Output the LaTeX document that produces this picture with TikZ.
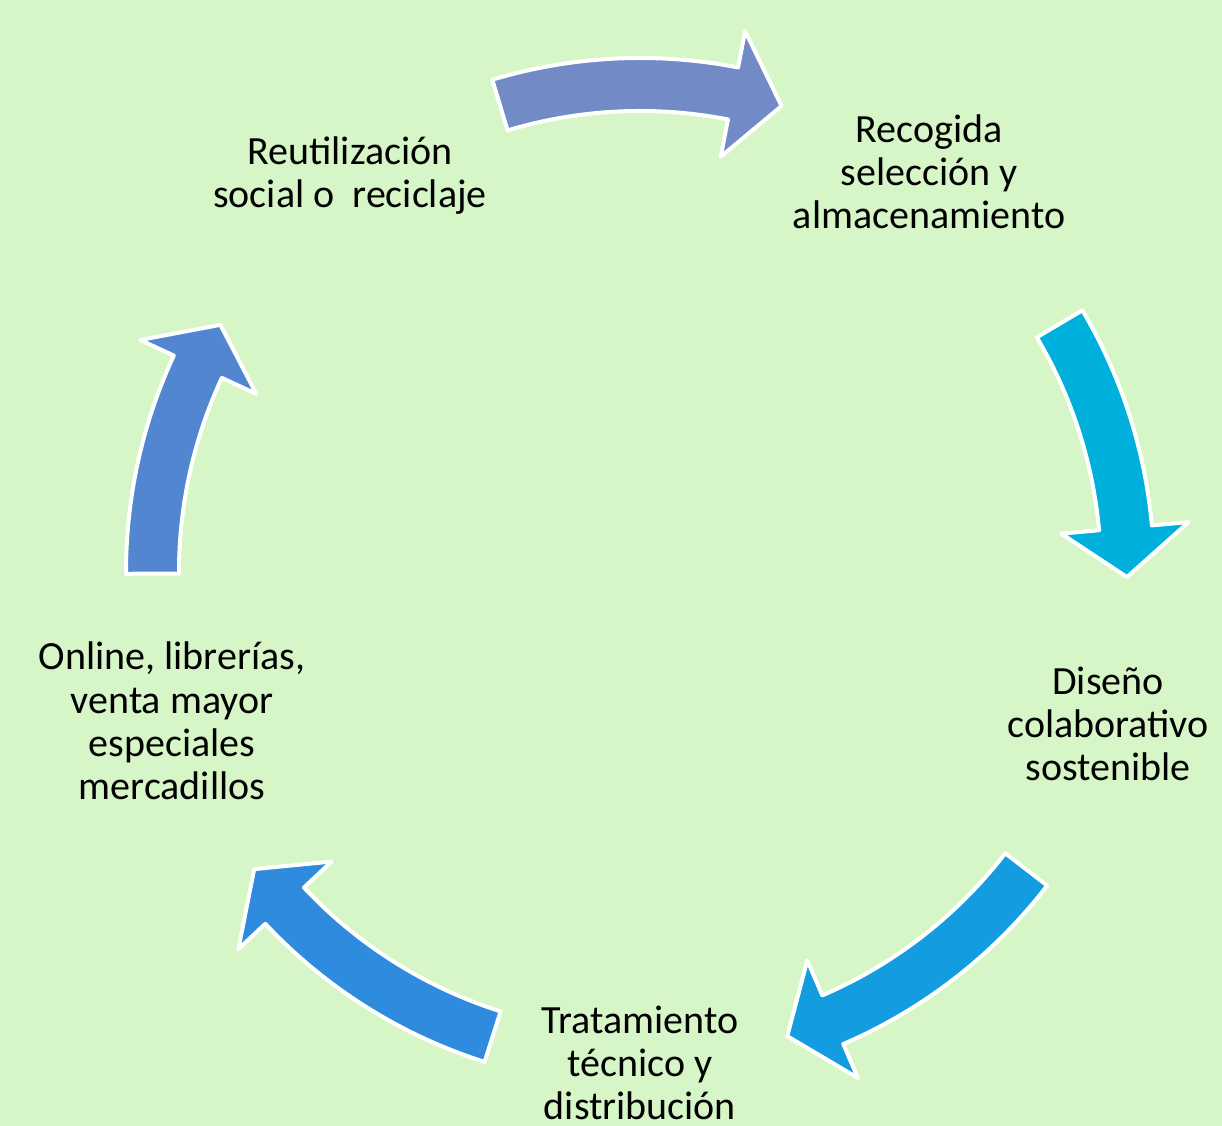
\documentclass[tikz,border=0pt]{standalone}
\usepackage{fontspec}
\setmainfont{Carlito}
\definecolor{bgc}{RGB}{214,246,200}
\definecolor{arTop}{RGB}{114,139,199}
\definecolor{arRight}{RGB}{0,176,220}
\definecolor{arLowR}{RGB}{19,156,224}
\definecolor{arLowL}{RGB}{46,139,221}
\definecolor{arLeft}{RGB}{83,134,209}
\tikzset{
  cyclearrow/.style={draw=white, line width=3pt, line join=round},
  lbl/.style={anchor=base, align=center, inner sep=0pt, text=black,
    font=\fontsize{30}{32.6}\selectfont}
}
% #1 colour, #2 tail angle, #3 head base angle, #4 tip angle
\newcommand{\cycarrow}[4]{%
  \filldraw[cyclearrow, fill=#1]
    ([shift={(C)}]#2:514) arc[start angle=#2, end angle=#3, radius=514]
    -- ([shift={(C)}]#3:551) -- ([shift={(C)}]#4:487) -- ([shift={(C)}]#3:423)
    -- ([shift={(C)}]#3:461) arc[start angle=#3, end angle=#2, radius=461]
    -- cycle;}
\begin{document}
\begin{tikzpicture}[x=0.75pt, y=0.75pt]
  \fill[bgc] (0,0) rectangle (1222,1126);
  \useasboundingbox (0,0) rectangle (1222,1126);
  \coordinate (C) at (640,554);
  \cycarrow{arTop}{106.7}{79}{73.1}
  \cycarrow{arRight}{30.6}{5.2}{-0.6}
  \cycarrow{arLowR}{-37.6}{-66.7}{-72.4}
  \cycarrow{arLowL}{-107.6}{-136.8}{-142.4}
  \cycarrow{arLeft}{180.2}{155.1}{149.5}
  \node[lbl] (reut) at (350,918) {Reutilización\\social o\ \ reciclaje};
  \node[lbl] (reco) at (929,897) {Recogida\\selección y\\almacenamiento};
  \node[lbl] (dise) at (1108,345) {Diseño\\colaborativo\\sostenible};
  \node[lbl] (trat) at (640,6) {Tratamiento\\técnico y\\distribución};
  \node[lbl] (onli) at (172,326) {Online, librerías,\\venta mayor\\especiales\\mercadillos};
\end{tikzpicture}
\end{document}
